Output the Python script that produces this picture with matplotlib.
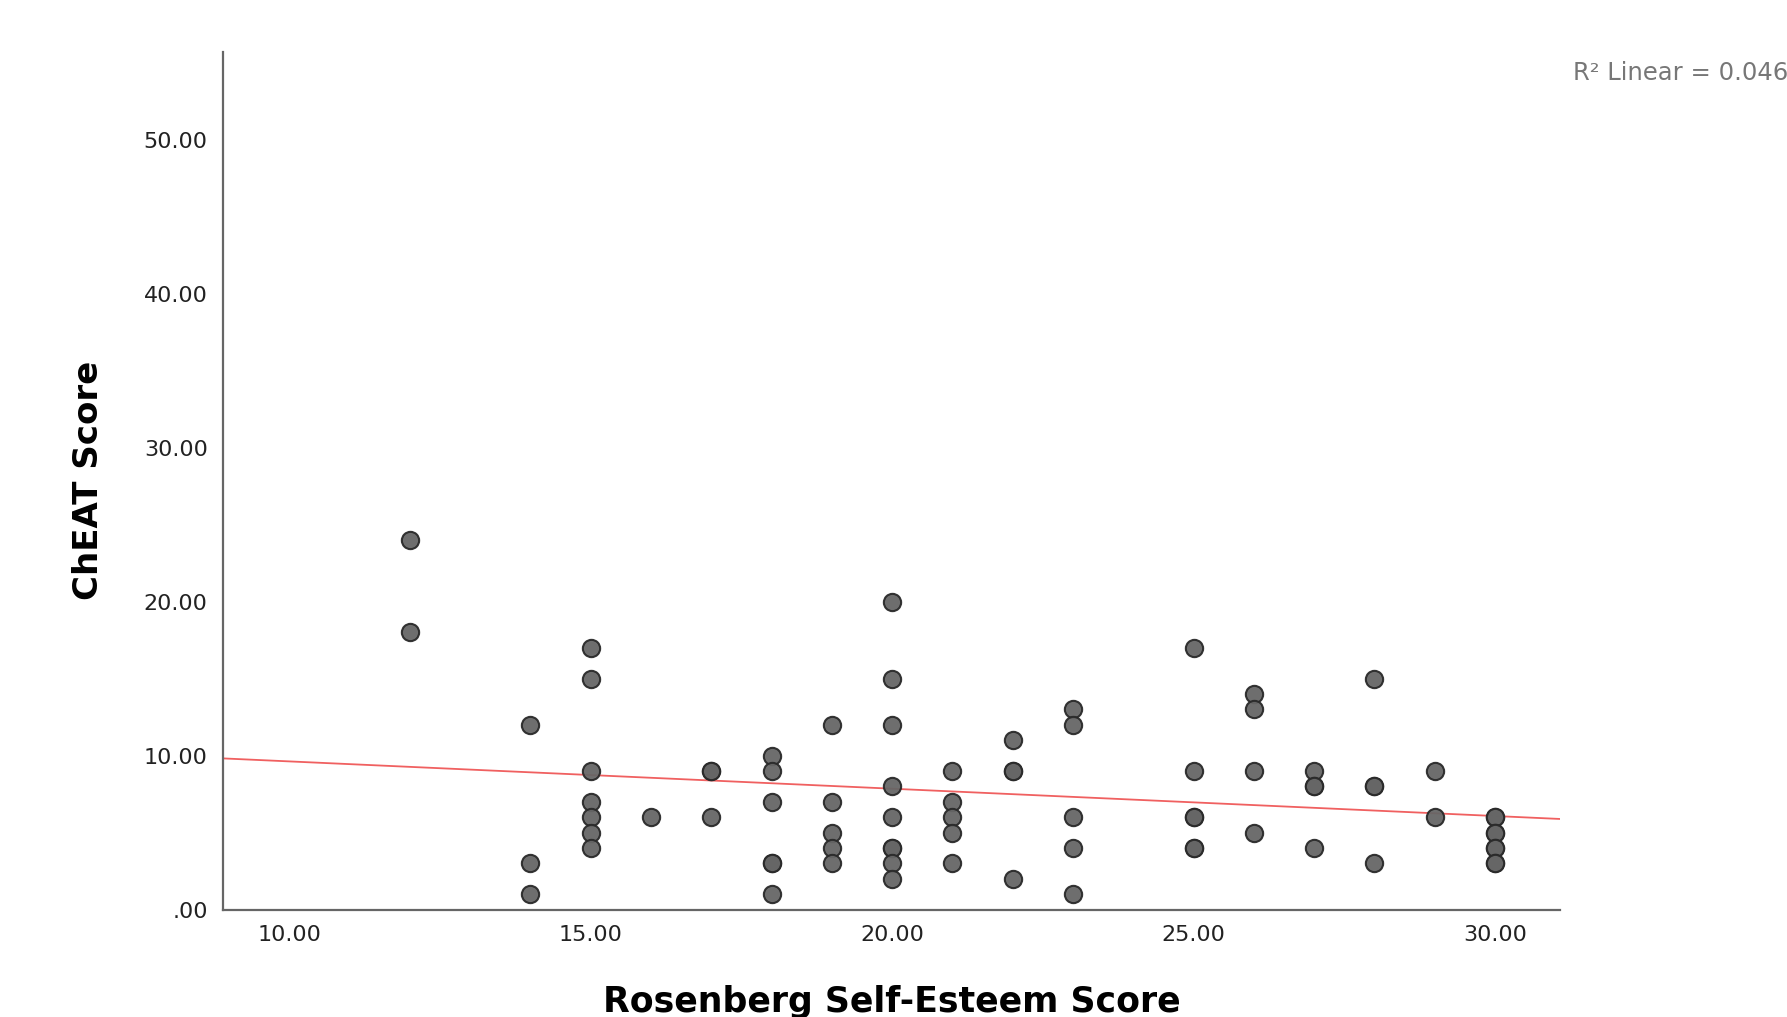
import matplotlib
matplotlib.use("Agg")
import matplotlib.pyplot as plt
import numpy as np

# Rosenberg self-esteem score (x) and ChEAT score (y), one entry per participant
x_12 = [12, 12]
y_12 = [24, 18]
x_14 = [14, 14, 14]
y_14 = [12, 3, 1]
x_15 = [15, 15, 15, 15, 15, 15, 15]
y_15 = [17, 15, 9, 7, 6, 5, 4]
x_16 = [16]
y_16 = [6]
x_17 = [17, 17, 17]
y_17 = [9, 9, 6]
x_18 = [18, 18, 18, 18, 18, 18]
y_18 = [10, 9, 7, 3, 3, 1]
x_19 = [19, 19, 19, 19, 19]
y_19 = [12, 7, 5, 4, 3]
x_20 = [20, 20, 20, 20, 20, 20, 20, 20, 20]
y_20 = [20, 15, 12, 8, 6, 4, 4, 3, 2]
x_21 = [21, 21, 21, 21, 21]
y_21 = [9, 7, 6, 5, 3]
x_22 = [22, 22, 22, 22]
y_22 = [11, 9, 9, 2]
x_23 = [23, 23, 23, 23, 23]
y_23 = [13, 12, 6, 4, 1]
x_25 = [25, 25, 25, 25, 25, 25]
y_25 = [17, 9, 6, 6, 4, 4]
x_26 = [26, 26, 26, 26]
y_26 = [14, 13, 9, 5]
x_27 = [27, 27, 27, 27]
y_27 = [9, 8, 8, 4]
x_28 = [28, 28, 28, 28]
y_28 = [15, 8, 8, 3]
x_29 = [29, 29]
y_29 = [9, 6]
x_30 = [30, 30, 30, 30, 30, 30, 30, 30]
y_30 = [6, 6, 5, 5, 4, 4, 3, 3]

x_ticks = [10, 15, 20, 25, 30]
x_tick_labels = ["10.00", "15.00", "20.00", "25.00", "30.00"]
y_ticks = [0, 10, 20, 30, 40, 50]
y_tick_labels = [".00", "10.00", "20.00", "30.00", "40.00", "50.00"]
r2_label = "R\u00b2 Linear = 0.046"

x = np.array(x_12 + x_14 + x_15 + x_16 + x_17 + x_18 + x_19 + x_20 + x_21
             + x_22 + x_23 + x_25 + x_26 + x_27 + x_28 + x_29 + x_30, dtype=float)
y = np.array(y_12 + y_14 + y_15 + y_16 + y_17 + y_18 + y_19 + y_20 + y_21
             + y_22 + y_23 + y_25 + y_26 + y_27 + y_28 + y_29 + y_30, dtype=float)

fig = plt.figure(figsize=(17.87, 10.17), dpi=100)
ax = fig.add_axes([223 / 1787, 1 - 909.5 / 1017, 1337 / 1787, 857.5 / 1017])

ax.scatter(x, y, s=155, facecolor="#666666", edgecolor="#2a2a2a",
           linewidths=1.5, alpha=0.95, zorder=3)

# fit line
xmin, xmax = 8.9, 31.08
slope, intercept = np.polyfit(x, y, 1)
xs = np.array([xmin, xmax])
ax.plot(xs, slope * xs + intercept, color="#f06060", linewidth=1.3, zorder=2)

fig.text(1573 / 1787, 1 - 73 / 1017, r2_label,
         fontsize=17.5, color="#777777", va="center", ha="left")

ax.set_xlim(xmin, xmax)
ax.set_ylim(0, 55.7)
ax.set_xticks(x_ticks)
ax.set_xticklabels(x_tick_labels)
ax.set_yticks(y_ticks)
ax.set_yticklabels(y_tick_labels)
ax.tick_params(length=0, labelsize=16, pad=11, labelcolor="#222222")

for side in ["top", "right"]:
    ax.spines[side].set_visible(False)
for side in ["left", "bottom"]:
    ax.spines[side].set_color("#666666")
    ax.spines[side].set_linewidth(1.6)

ax.set_xlabel("Rosenberg Self-Esteem Score", fontsize=25, fontweight="bold", labelpad=29)
ax.set_ylabel("ChEAT Score", fontsize=24.5, fontweight="bold", labelpad=28)

fig.savefig("out.png", dpi=100)
